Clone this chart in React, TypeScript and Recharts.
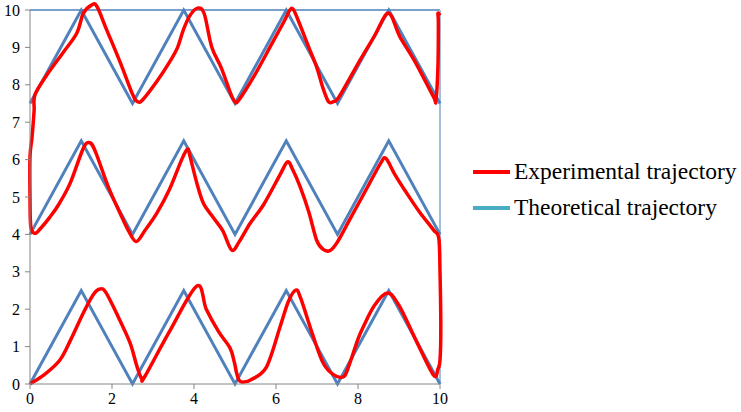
import React from 'react';
import { LineChart, Line, XAxis, YAxis, ReferenceLine, Legend } from 'recharts';

const xTicks = [0, 2, 4, 6, 8, 10];
const yTicks = [0, 1, 2, 3, 4, 5, 6, 7, 8, 9, 10];

const legendLabels = ['Experimental trajectory', 'Theoretical trajectory'];
const legendColors = ['#FF0000', '#4BACC6'];

// Theoretical trajectory (three passes)
const theoBottomX = [0, 1.25, 2.5, 3.75, 5, 6.25, 7.5, 8.75, 10];
const theoBottomY = [0, 2.5, 0, 2.5, 0, 2.5, 0, 2.5, 0];
const theoMiddleX = [10, 8.75, 7.5, 6.25, 5, 3.75, 2.5, 1.25, 0];
const theoMiddleY = [4, 6.5, 4, 6.5, 4, 6.5, 4, 6.5, 4];
const theoTopX = [0, 1.25, 2.5, 3.75, 5, 6.25, 7.5, 8.75, 10];
const theoTopY = [7.5, 10, 7.5, 10, 7.5, 10, 7.5, 10, 7.5];

// Experimental trajectory (one continuous path)
const expX = [
  0, 0.35, 0.73, 1.0, 1.3, 1.55, 1.71, 1.85, 2.15, 2.44, 2.6, 2.72, 2.8, 3.4, 4.07, 4.3, 4.6, 4.88, 4.98, 5.04,
  5.1, 5.2, 5.4, 5.77, 6.1, 6.3, 6.48, 6.6, 6.9, 7.15, 7.4, 7.64, 7.75, 8.0, 8.13, 8.4, 8.72, 9.0, 9.4, 9.84,
  9.95, 10, 10.02, 10.0, 9.97, 9.84, 9.5, 9.19, 8.9, 8.68, 8.55, 8.2, 7.8, 7.5, 7.32, 7.15, 6.99, 6.8, 6.59, 6.4,
  6.28, 6.1, 5.7, 5.37, 5.1, 4.92, 4.7, 4.47, 4.23, 4.07, 3.9, 3.84, 3.7, 3.4, 3.09, 2.8, 2.59, 2.4, 2.2, 1.9,
  1.6, 1.46, 1.3, 0.98, 0.7, 0.49, 0.25, 0.12, 0.02, 0.0, 0.0, 0.05, 0.1, 0.12, 0.41, 0.8, 1.14, 1.3, 1.5, 1.63,
  1.87, 2.2, 2.5, 2.62, 2.75, 3.1, 3.41, 3.6, 3.74, 3.9, 4.09, 4.25, 4.43, 4.67, 4.9, 5.0, 5.1, 5.5, 5.9, 6.2,
  6.34, 6.42, 6.55, 6.8, 6.99, 7.15, 7.28, 7.4, 7.55, 8.05, 8.4, 8.74, 9.02, 9.4, 9.84, 9.9, 9.95, 9.96, 9.95, 10.0,
];
const expY = [
  0, 0.25, 0.64, 1.2, 1.9, 2.4, 2.54, 2.45, 1.8, 1.1, 0.5, 0.15, 0.2, 1.4, 2.62, 2.0, 1.4, 0.96, 0.6, 0.29,
  0.1, 0.05, 0.12, 0.46, 1.53, 2.2, 2.51, 2.3, 1.3, 0.56, 0.25, 0.19, 0.4, 1.2, 1.53, 2.1, 2.43, 2.1, 1.2, 0.24,
  0.4, 0.64, 1.5, 3.0, 3.9, 4.12, 4.6, 5.1, 5.6, 6.03, 5.9, 5.2, 4.4, 3.8, 3.57, 3.6, 3.85, 4.6, 5.27, 5.75,
  5.94, 5.6, 4.8, 4.3, 3.8, 3.58, 4.1, 4.45, 4.83, 5.37, 6.1, 6.28, 6.0, 5.2, 4.56, 4.1, 3.81, 4.1, 4.56, 5.3,
  6.2, 6.45, 6.3, 5.37, 4.8, 4.47, 4.15, 4.03, 4.2, 5.0, 6.08, 6.6, 7.3, 7.73, 8.26, 8.85, 9.38, 9.91, 10.13, 10.1,
  9.47, 8.6, 7.75, 7.55, 7.6, 8.1, 8.62, 9.0, 9.47, 9.85, 10.05, 9.9, 9.02, 8.44, 7.75, 7.55, 7.6, 8.3, 9.1, 9.7,
  10.0, 10.02, 9.7, 9.0, 8.48, 7.9, 7.55, 7.55, 7.7, 8.66, 9.3, 9.91, 9.29, 8.6, 7.68, 7.59, 8.5, 9.64, 9.91, 9.85,
];

const toPoints = (xs: number[], ys: number[]) => xs.map((x, i) => ({ x, y: ys[i] }));

const theoBottom = toPoints(theoBottomX, theoBottomY);
const theoMiddle = toPoints(theoMiddleX, theoMiddleY);
const theoTop = toPoints(theoTopX, theoTopY);
const experimental = toPoints(expX, expY);

// Catmull-Rom style smoothing curve factory (passes through every point)
const smoothCurve = (context: any) => {
  let pts: [number, number][] = [];
  return {
    areaStart() {},
    areaEnd() {},
    lineStart() {
      pts = [];
    },
    lineEnd() {
      if (!pts.length) return;
      context.moveTo(pts[0][0], pts[0][1]);
      for (let i = 0; i < pts.length - 1; i++) {
        const p0 = pts[i - 1] || pts[i];
        const p1 = pts[i];
        const p2 = pts[i + 1];
        const p3 = pts[i + 2] || p2;
        const t = 0.5 / 3;
        context.bezierCurveTo(
          p1[0] + (p2[0] - p0[0]) * t,
          p1[1] + (p2[1] - p0[1]) * t,
          p2[0] - (p3[0] - p1[0]) * t,
          p2[1] - (p3[1] - p1[1]) * t,
          p2[0],
          p2[1],
        );
      }
    },
    point(x: number, y: number) {
      pts.push([+x, +y]);
    },
  };
};

const FONT = 'Liberation Serif';
const tickStyle = { fill: '#000', fontSize: 16, fontFamily: FONT };

const renderLegend = () => (
  <svg width={270} height={80} style={{ display: 'block' }}>
    {legendLabels.map((label, i) => (
      <g key={label}>
        <line x1={3} x2={40} y1={22 + i * 36} y2={22 + i * 36} stroke={legendColors[i]} strokeWidth={4} />
        <text x={44} y={29 + i * 36} fontFamily={FONT} fontSize={23.5} fill="#000">
          {label}
        </text>
      </g>
    ))}
  </svg>
);

export default function App() {
  return (
    <div style={{ position: 'absolute', left: 0, top: 0, background: '#fff' }}>
      <style>{'.recharts-line { clip-path: none !important; } .recharts-line path, .recharts-line-curve { clip-path: none !important; }'}</style>
      <LineChart width={741} height={412} margin={{ top: 10, right: 301, bottom: 0, left: 0 }}>
        <XAxis
          type="number"
          dataKey="x"
          domain={[0, 10]}
          ticks={xTicks}
          allowDataOverflow
          height={28}
          stroke="#868686"
          tickSize={5}
          tickMargin={4}
          tick={tickStyle}
        />
        <YAxis
          type="number"
          dataKey="y"
          domain={[0, 10]}
          ticks={yTicks}
          allowDataOverflow
          width={30}
          stroke="#868686"
          tickSize={5}
          tickMargin={5}
          tick={tickStyle}
          interval={0}
        />
        <ReferenceLine y={10} stroke="#4F81BD" strokeWidth={1.5} ifOverflow="visible" />
        <ReferenceLine x={10} stroke="#A7BEDC" strokeWidth={2} ifOverflow="visible" />
        <Line data={theoBottom} dataKey="y" type="linear" stroke="#4F81BD" strokeWidth={3} dot={false} isAnimationActive={false} legendType="none" />
        <Line data={theoMiddle} dataKey="y" type="linear" stroke="#4F81BD" strokeWidth={3} dot={false} isAnimationActive={false} legendType="none" />
        <Line data={theoTop} dataKey="y" type="linear" stroke="#4F81BD" strokeWidth={3} dot={false} isAnimationActive={false} legendType="none" />
        <Line data={experimental} dataKey="y" type={smoothCurve as any} stroke="#FF0000" strokeWidth={3.5} strokeLinejoin="round" dot={false} isAnimationActive={false} legendType="none" />
        <Legend
          layout="vertical"
          align="center"
          verticalAlign="middle"
          content={renderLegend}
          wrapperStyle={{ left: 470, top: 150, width: 270, height: 80 }}
        />
      </LineChart>
    </div>
  );
}
